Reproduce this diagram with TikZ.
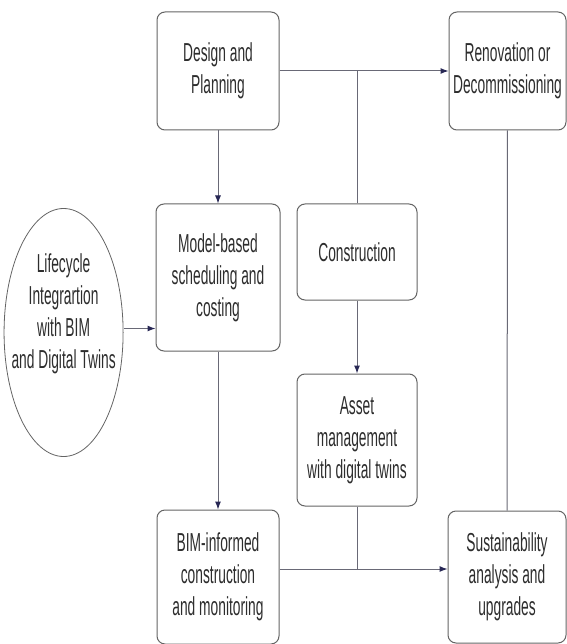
\documentclass[tikz,border=0pt]{standalone}
\usepackage{fontspec}
\setmainfont[FakeStretch=0.53]{Liberation Sans}
\usetikzlibrary{positioning,shapes.geometric,arrows.meta}
\definecolor{linegray}{RGB}{105,105,118}
\definecolor{tipnavy}{RGB}{40,40,85}
\definecolor{boxgray}{RGB}{100,100,100}
\definecolor{textgray}{RGB}{45,45,45}
\tikzset{
    stage/.style={rectangle, rounded corners=8pt, draw=boxgray, line width=1pt, align=center, text=textgray, inner sep=2pt, font=\fontsize{26}{32}\selectfont},
    hub/.style={ellipse, draw=boxgray, line width=0.8pt, align=center, text=textgray, inner xsep=-10pt, inner ysep=0pt, font=\fontsize{26}{32}\selectfont},
    arr/.style={draw=linegray, line width=1pt, -{Latex[length=8pt,width=6pt,color=tipnavy]}},
    link/.style={draw=linegray, line width=1pt}
    }
\begin{document}
\begin{tikzpicture}[x=1pt,y=-1pt]
    \useasboundingbox[fill=white] (0,0) rectangle (566,644);
    \node[stage, minimum width=122pt, minimum height=118pt] (design) at (218,71) {Design and\\Planning};
    \node[stage, minimum width=117pt, minimum height=118pt, right=169pt of design] (renov) {Renovation or\\Decommissioning};
    \node[stage, minimum width=124pt, minimum height=147pt, below=73pt of design] (model) {Model-based\\scheduling and\\costing};
    \node[stage, minimum width=120pt, minimum height=96pt, right=16pt of model.north east, anchor=north west] (constr) {Construction};
    \node[stage, minimum width=120pt, minimum height=132pt, below=73pt of constr] (asset) {Asset\\management\\with digital twins};
    \node[stage, minimum width=122pt, minimum height=134pt, below=158pt of model] (bim) {BIM-informed\\construction\\and monitoring};
    \node[stage, minimum width=118pt, minimum height=132pt, right=168pt of bim] (sust) {Sustainability\\analysis and\\upgrades};
    \node[hub, minimum width=118pt, minimum height=248pt, left=32pt of model.west, yshift=-55pt] (hub) {Lifecycle\\Integrartion\\with BIM\\and Digital Twins\\[10pt]};

    % top row and middle column
    \draw[arr] (design) -- (renov);
    \draw[link] (constr.north) -- (constr.north |- design.east);
    \draw[arr] (constr) -- (asset);
    % left column
    \draw[arr] (design) -- (model);
    \draw[arr] ([yshift=4pt]hub.east) -- ([yshift=4pt]hub.east -| model.west);
    \draw[arr] (model) -- (bim);
    % bottom row and right column
    \coordinate (join) at ([yshift=8pt]bim.east);
    \draw[arr] (join) -- (join -| sust.west);
    \draw[link] (asset.south) -- (asset.south |- join);
    \draw[link] (renov) -- (sust);
\end{tikzpicture}
\end{document}
